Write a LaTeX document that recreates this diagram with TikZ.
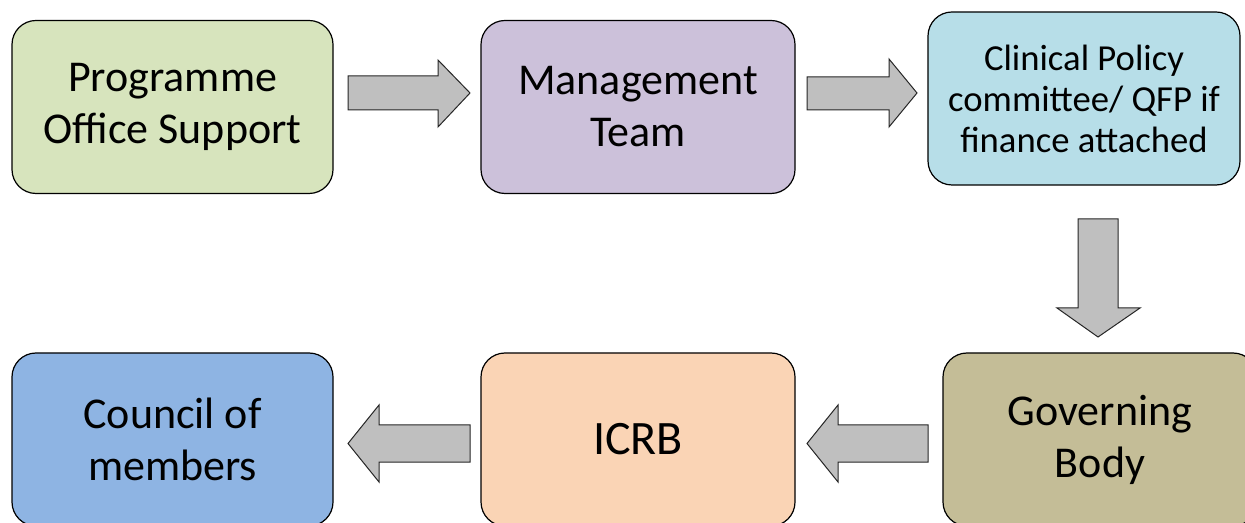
\documentclass[tikz,border=0pt]{standalone}
\usepackage{fontspec}
\setmainfont{Carlito}
\definecolor{cgreen}{HTML}{D7E4BD}
\definecolor{cpurple}{HTML}{CCC1DA}
\definecolor{clblue}{HTML}{B7DEE8}
\definecolor{ctan}{HTML}{C4BD97}
\definecolor{cpeach}{HTML}{FAD4B5}
\definecolor{cblue}{HTML}{8EB4E3}
\definecolor{carrow}{HTML}{BFBFBF}
\begin{document}
\begin{tikzpicture}[x=0.75pt,y=-0.75pt,
  box/.style={draw=black, line width=0.9pt, rounded corners=18pt, align=center,
    minimum width=235.5pt, minimum height=129.75pt, inner sep=0pt,
    font=\fontsize{33}{39}\selectfont},
  smalltext/.style={font=\fontsize{27.5}{30.75}\selectfont},
  blockarrow/.style={draw=black!85, line width=0.75pt, fill=carrow, line join=miter},
]
\useasboundingbox (0,0) rectangle (1245,523);
\node[box, fill=cgreen, minimum width=240.75pt] (pos) at (172.5,107) {Programme\\Office Support};
\node[box, fill=cpurple] (mt) at (638,107) {Management\\Team};
\node[box, fill=clblue, minimum width=234pt, smalltext] (cpc) at (1084,98.5) {Clinical Policy\\committee/ QFP if\\finance attached};
\node[box, fill=ctan] (gb) at (1100,439.5) {Governing\\Body};
\node[box, fill=cpeach, font=\fontsize{36}{39}\selectfont] (icrb) at (638,439.5) {ICRB};
\node[box, fill=cblue, minimum width=240.75pt] (com) at (172.5,439.5) {Council of\\members};

% block arrows
\draw[blockarrow] (348,76) -- (438,76) -- (438,60) -- (470,93) -- (438,127) -- (438,110) -- (348,110) -- cycle;
\draw[blockarrow] (807,77) -- (889,77) -- (889,59) -- (917,93) -- (889,127) -- (889,110) -- (807,110) -- cycle;
\draw[blockarrow] (1078,219) -- (1118,219) -- (1118,308) -- (1140,308) -- (1098,337) -- (1057,308) -- (1078,308) -- cycle;
\draw[blockarrow] (928,425) -- (838,425) -- (838,405) -- (807,443.5) -- (838,482) -- (838,462) -- (928,462) -- cycle;
\draw[blockarrow] (470,425) -- (379,425) -- (379,405) -- (348,443.5) -- (379,482) -- (379,462) -- (470,462) -- cycle;
\end{tikzpicture}
\end{document}
